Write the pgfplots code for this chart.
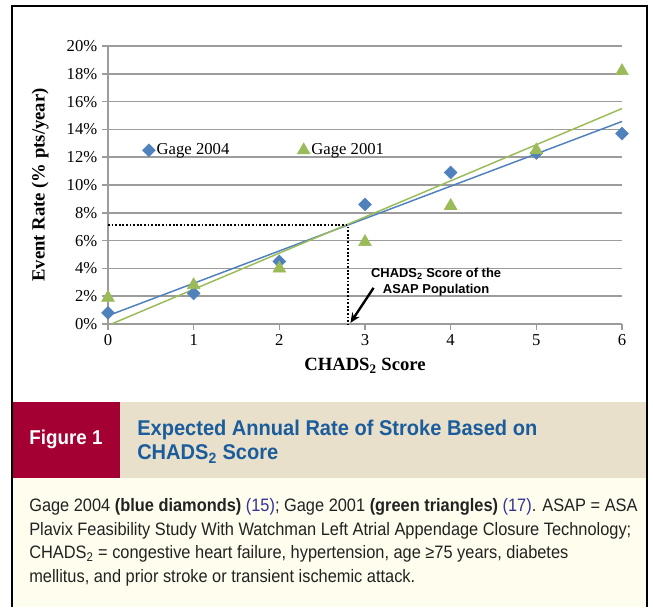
\documentclass[border=0pt]{standalone}
\usepackage{fontspec}
\setmainfont{Liberation Serif}
\newfontfamily\arialfont{Liberation Sans}
\newfontfamily\titlefont[FakeStretch=0.94]{Liberation Sans}
\newfontfamily\bodyfont[FakeStretch=0.91]{Liberation Sans}
\usepackage{pgfplots}
\pgfplotsset{compat=1.18}
\usetikzlibrary{arrows.meta}
\definecolor{gblue}{HTML}{4F81BD}
\definecolor{ggreen}{HTML}{9BBB59}
\definecolor{figred}{HTML}{A50034}
\definecolor{hdrbg}{HTML}{E8E0CA}
\definecolor{capbg}{HTML}{FFFDEE}
\definecolor{titleblue}{HTML}{1A5C9C}
\definecolor{citeblue}{HTML}{33339A}
\definecolor{gridgray}{HTML}{9C9C9C}
\definecolor{bodytext}{HTML}{222222}
\begin{document}
\begin{tikzpicture}[x=0.75pt,y=0.75pt]
\path[use as bounding box] (0,0) rectangle (653,607);
\fill[white] (0,0) rectangle (653,607);
\fill[capbg] (12,0) rectangle (647,129);
\fill[hdrbg] (12,129) rectangle (647,205);
\fill[figred] (12,129) rectangle (120,205);
\node[white, font=\titlefont\bfseries\fontsize{15}{17}\selectfont] at (66,168) {Figure 1};
\node[anchor=base west, inner sep=0pt, titleblue, font=\titlefont\bfseries\fontsize{16}{18}\selectfont] at (137,171) {Expected Annual Rate of Stroke Based on};
\node[anchor=base west, inner sep=0pt, titleblue, font=\titlefont\bfseries\fontsize{16}{18}\selectfont] at (137,147) {CHADS\textsubscript{2} Score};
\begin{scope}[every node/.style={anchor=base west, inner sep=0pt, text=bodytext, font=\bodyfont\fontsize{13.5}{16}\selectfont}]
\node at (29,95.3) {Gage 2004 \textbf{(blue diamonds)} \textcolor{citeblue}{(15)}; Gage 2001 \textbf{(green triangles)} \textcolor{citeblue}{(17)}. ASAP = ASA};
\node at (29,71.8) {Plavix Feasibility Study With Watchman Left Atrial Appendage Closure Technology;};
\node at (29,48.3) {CHADS\textsubscript{2} = congestive heart failure, hypertension, age ≥75 years, diabetes};
\node at (29,24.8) {mellitus, and prior stroke or transient ischemic attack.};
\end{scope}
\begin{axis}[
  at={(81pt,212.25pt)}, anchor=south west,
  width=385.5pt, height=208.5pt, scale only axis,
  xmin=0, xmax=6, ymin=0, ymax=20,
  clip=false,
  axis lines*=left,
  axis line style={draw=gridgray, line width=1.1pt, -},
  xtick={0,1,2,3,4,5,6}, ytick={0,2,4,6,8,10,12,14,16,18,20},
  yticklabel={\pgfmathprintnumber{\tick}\%},
  ymajorgrids, grid style={draw=gridgray, line width=1.1pt},
  tick align=outside, major tick length=4.5pt,
  tick style={draw=gridgray, line width=1.1pt},
  ticklabel style={font=\fontsize{12.5}{14}\selectfont},
  /pgf/number format/assume math mode=true,
  xlabel={CHADS\textsubscript{2} Score},
  ylabel={Event Rate (\% pts/year)},
  label style={font=\fontsize{14}{16}\selectfont\bfseries},
  xlabel style={at={(axis description cs:0.5,-0.151)}, anchor=center},
  ylabel style={at={(axis description cs:-0.132,0.5)}, anchor=center},
  legend style={at={(axis cs:0.40,12.5)}, anchor=west, draw=none, fill=none,
    legend columns=2, font=\fontsize{12.5}{14}\selectfont, inner sep=0pt,
    nodes={inner sep=1pt},
    /tikz/every even column/.append style={column sep=50pt}},
  legend cell align=left,
  legend image code/.code={\draw[#1] plot coordinates {(0pt,0pt)};},
]
\addplot[only marks, mark=square*, mark size=3.4pt, mark options={rotate=45, fill=gblue, draw=gblue}, color=gblue]
  coordinates {(0,0.8)(1,2.2)(2,4.5)(3,8.6)(4,10.9)(5,12.3)(6,13.7)};
\addlegendentry{Gage 2004}
\addplot[only marks, mark=triangle*, mark size=5.5pt, mark options={fill=ggreen, draw=ggreen}, color=ggreen]
  coordinates {(0,1.9)(1,2.8)(2,4.0)(3,5.9)(4,8.5)(5,12.5)(6,18.2)};
\addlegendentry{Gage 2001}
\addplot[forget plot, gblue, line width=1.1pt] coordinates {(0,0.6)(6,14.57)};
\addplot[forget plot, ggreen, line width=1.1pt] coordinates {(0.04,0)(6,15.5)};
\addplot[forget plot, black, line width=1.3pt, dash pattern=on 1.3pt off 1.4pt] coordinates {(0,7.1)(2.8,7.1)(2.8,0)};
\draw[-{Stealth[length=7.5pt,width=6.5pt]}, line width=1.8pt] (axis cs:3.10,2.6) -- (axis cs:2.83,0.08);
\node[font=\arialfont\bfseries\fontsize{9.7}{12}\selectfont, align=center] at (axis cs:3.83,3.0) {CHADS\textsubscript{2} Score of the\\ASAP Population};
\end{axis}
\draw[line width=1.5pt] (12,0) -- (12,601) -- (647,601) -- (647,0);
\end{tikzpicture}
\end{document}
